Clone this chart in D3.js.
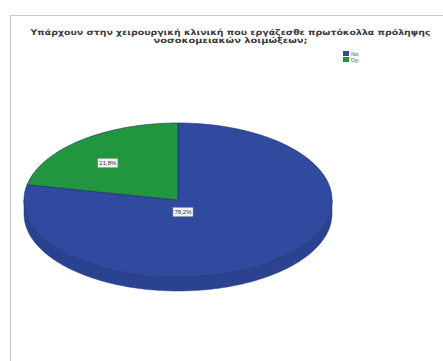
<!DOCTYPE html>
<html>
<head>
<meta charset="utf-8">
<script src="https://cdn.jsdelivr.net/npm/d3@7"></script>
<style>
  html, body { margin: 0; padding: 0; background: #fff; }
  svg { display: block; }
</style>
</head>
<body>
<svg id="chart" width="443" height="361"></svg>
<script>
// Survey answers and their shares (%)
const categories = ["Ναι", "Όχι"];
const shares = [78.2, 21.8];
const shareLabels = ["78,2%", "21,8%"];
const titleLines = [
  "Υπάρχουν στην χειρουργική κλινική που εργάζεσθε πρωτόκολλα πρόληψης",
  "νοσοκομειακών λοιμώξεων;"
];

const topColors = ["#2f4a9e", "#22963e"];
const sideColors = ["#2a428f", "#1d8536"];

const svg = d3.select("#chart");

// Outer frame
svg.append("path")
  .attr("d", "M10.5,361 V15.5 H443")
  .attr("fill", "none")
  .attr("stroke", "#c8c8c8")
  .attr("stroke-width", 1.2);

// Title
const titleWidths = [400, 154];
svg.append("g").selectAll("text")
  .data(titleLines)
  .join("text")
  .attr("x", 230.5)
  .attr("y", (d, i) => 34.5 + i * 8.6)
  .attr("text-anchor", "middle")
  .attr("font-family", "DejaVu Sans, sans-serif")
  .attr("font-weight", "bold")
  .attr("font-size", 7.8)
  .attr("textLength", (d, i) => titleWidths[i])
  .attr("lengthAdjust", "spacingAndGlyphs")
  .attr("fill", "#3a3a3a")
  .text(d => d);

// Legend
const legend = svg.append("g").attr("transform", "translate(343,51)");
const li = legend.selectAll("g").data(categories).join("g")
  .attr("transform", (d, i) => `translate(0,${i * 6})`);
li.append("rect").attr("width", 6).attr("height", 5)
  .attr("fill", (d, i) => topColors[i]);
li.append("text").attr("x", 8).attr("y", 4.5)
  .attr("font-family", "Liberation Sans, Arial, sans-serif")
  .attr("font-size", 5).attr("fill", "#555")
  .text(d => d);

// 3D pie geometry
const cx = 178, cy = 200, rx = 154, ry = 77, depth = 14;
const pie = d3.pie().sort(null).value(d => d)(shares);

const pt = (a, dy = 0) => [cx + rx * Math.sin(a), cy - ry * Math.cos(a) + dy];
const arcPts = (a0, a1, dy = 0) => {
  const n = Math.max(2, Math.ceil(Math.abs(a1 - a0) / 0.02));
  return d3.range(n + 1).map(i => pt(a0 + (a1 - a0) * i / n, dy));
};
const line = d3.line();

const g = svg.append("g");

// Visible side wall (front half: angles between π/2 and 3π/2)
pie.forEach((s, i) => {
  const a0 = Math.max(s.startAngle, Math.PI / 2);
  const a1 = Math.min(s.endAngle, 3 * Math.PI / 2);
  if (a1 <= a0) return;
  const pts = arcPts(a0, a1).concat(arcPts(a1, a0, depth));
  g.append("path").attr("d", line(pts) + "Z")
    .attr("fill", sideColors[i])
    .attr("stroke", sideColors[i]).attr("stroke-width", 0.5);
});

// Top faces
pie.forEach((s, i) => {
  const pts = [[cx, cy]].concat(arcPts(s.startAngle, s.endAngle));
  g.append("path").attr("d", line(pts) + "Z")
    .attr("fill", topColors[i])
    .attr("stroke", "#1d2f66").attr("stroke-width", 0.6);
});

// Value labels
const labelFrac = [0.1, 0.72];
pie.forEach((s, i) => {
  const mid = (s.startAngle + s.endAngle) / 2;
  let [x, y] = [cx + rx * labelFrac[i] * Math.sin(mid), cy - ry * labelFrac[i] * Math.cos(mid) + 6];
  if (i === 0) { x = cx + 5; y = cy + 12; }
  const lg = g.append("g").attr("transform", `translate(${x},${y})`);
  lg.append("rect").attr("x", -10).attr("y", -4.5).attr("width", 20).attr("height", 9)
    .attr("fill", "#f4f4f4").attr("stroke", "#999").attr("stroke-width", 0.5);
  lg.append("text").attr("text-anchor", "middle").attr("y", 2.2)
    .attr("font-family", "Liberation Sans, Arial, sans-serif")
    .attr("font-size", 6).attr("fill", "#333")
    .text(shareLabels[i]);
});
</script>
</body>
</html>
